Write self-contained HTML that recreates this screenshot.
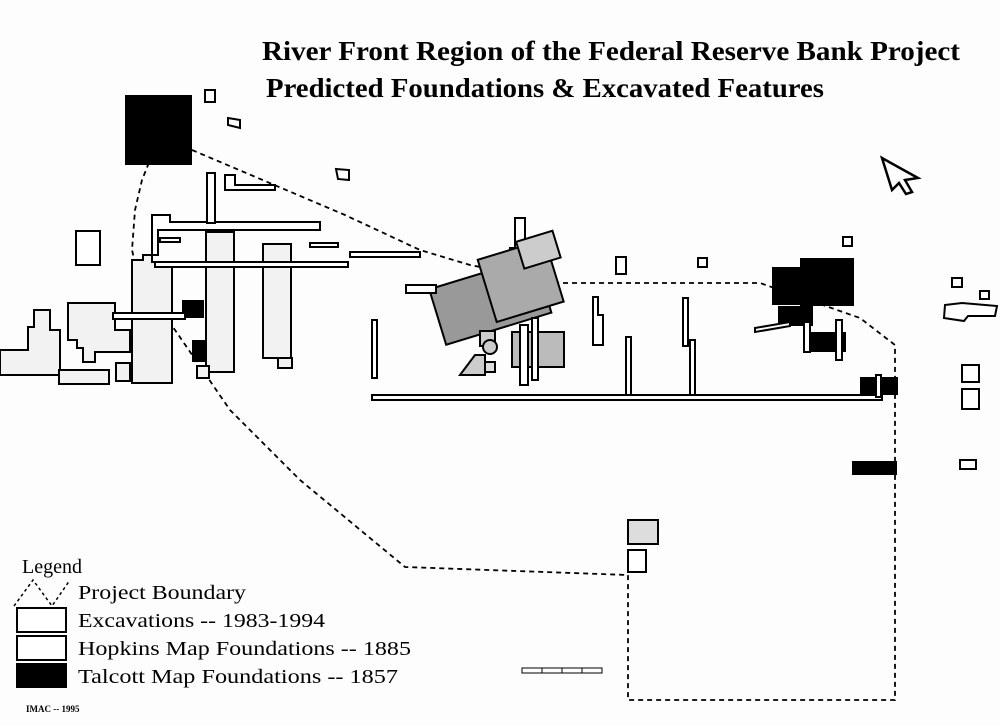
<!DOCTYPE html>
<html><head><meta charset="utf-8"><style>
html,body{margin:0;padding:0;background:#fff;width:1000px;height:726px;overflow:hidden}
svg{display:block}
text{font-family:"Liberation Serif",serif;fill:#000}
</style></head><body>
<svg width="1000" height="726" viewBox="0 0 1000 726" xmlns="http://www.w3.org/2000/svg">
<rect width="1000" height="726" fill="#fdfdfd"/>
<text x="262" y="60" font-size="27" font-weight="bold" textLength="698" lengthAdjust="spacingAndGlyphs">River Front Region of the Federal Reserve Bank Project</text>
<text x="266" y="97" font-size="27" font-weight="bold" textLength="558" lengthAdjust="spacingAndGlyphs">Predicted Foundations &amp; Excavated Features</text>

<path d="M882,158 L918,178 L905,180 L912,192 L906,194 L899,183 L892,190 Z" fill="none" stroke="#000" stroke-width="2.5"/>

<g fill="none" stroke="#000" stroke-width="1.8" stroke-dasharray="5,4">
<path d="M192,150 L345,215 L420,250 L470,265 L520,275 L560,283 L760,283 L860,318 L895,345 L895,700 L628,700 L628,575 L405,567 L300,480 L230,410 L175,330 L140,285 L132,250 L135,210 L142,180 L150,160"/>
</g>

<g fill="#000">
<rect x="125" y="95" width="67" height="70"/>
<rect x="772" y="267" width="30" height="38"/>
<rect x="800" y="258" width="54" height="48"/>
<rect x="778" y="306" width="35" height="20"/>
<rect x="808" y="332" width="38" height="20"/>
<rect x="860" y="377" width="38" height="18"/>
<rect x="852" y="461" width="45" height="14"/>
<rect x="182" y="300" width="22" height="18"/>
<rect x="192" y="340" width="14" height="22"/>
<rect x="16" y="663" width="51" height="25"/>
</g>

<g fill="#f2f2f2" stroke="#000" stroke-width="2">
<rect x="76" y="231" width="24" height="34" fill="#fff"/>
<path d="M0,350 L28,350 L28,327 L34,327 L34,310 L50,310 L50,330 L60,330 L60,375 L0,375 Z"/>
<path d="M68,303 L115,303 L115,330 L130,330 L130,352 L95,352 L95,362 L83,362 L83,348 L77,348 L77,340 L68,340 Z"/>
<rect x="59" y="370" width="50" height="14"/>
<rect x="116" y="363" width="14" height="18"/>
<path d="M132,260 L143,260 L143,255 L152,255 L152,262 L172,262 L172,383 L132,383 Z"/>
<path d="M152,220 L152,215 L170,215 L170,222 L320,222 L320,230 L158,230 L158,255 L152,255 Z" fill="#fff"/>
<rect x="206" y="232" width="28" height="140"/>
<rect x="263" y="244" width="28" height="114"/>
<rect x="278" y="358" width="14" height="10"/>
<rect x="197" y="366" width="12" height="12"/>
<rect x="113" y="313" width="72" height="6" fill="#fff"/>
<rect x="155" y="262" width="193" height="5" fill="#fff"/>
<rect x="207" y="173" width="8" height="50" fill="#fff"/>
<path d="M225,175 L235,175 L235,185 L275,185 L275,190 L225,190 Z" fill="#fff"/>
<rect x="160" y="238" width="20" height="4" fill="#fff"/>
<rect x="310" y="243" width="28" height="4" fill="#fff"/>
<rect x="205" y="90" width="10" height="12" fill="#fff"/>
<path d="M228,118 L240,120 L240,128 L228,125 Z" fill="#fff"/>
<path d="M336,169 L349,170 L349,180 L338,179 Z" fill="#fff"/>
<rect x="350" y="252" width="70" height="5" fill="#fff"/>
<path d="M515,218 L525,218 L525,255 L510,255 L510,248 L515,248 Z" fill="#fff"/>
<g transform="rotate(-17 490 300)">
<rect x="435" y="272" width="110" height="58" fill="#999"/>
<rect x="490" y="258" width="70" height="65" fill="#aaa"/>
<rect x="532" y="252" width="38" height="28" fill="#ccc"/>
</g>
<rect x="480" y="331" width="15" height="15" fill="#ccc"/>
<circle cx="490" cy="347" r="7" fill="#ccc"/>
<path d="M460,375 L475,355 L485,355 L485,375 Z" fill="#ccc"/>
<rect x="485" y="362" width="10" height="10" fill="#ddd"/>
<rect x="512" y="332" width="52" height="35" fill="#bbb"/>
<rect x="520" y="325" width="8" height="60" fill="#fff"/>
<rect x="532" y="318" width="6" height="62" fill="#fff"/>
<rect x="406" y="285" width="30" height="8" fill="#fff"/>
<rect x="616" y="257" width="10" height="17" fill="#fff"/>
<path d="M593,297 L598,297 L598,315 L603,315 L603,345 L593,345 Z" fill="#fff"/>
<rect x="698" y="258" width="9" height="9" fill="#fff"/>
<rect x="843" y="237" width="9" height="9" fill="#fff"/>
<rect x="372" y="320" width="5" height="58" fill="#fff"/>
<rect x="626" y="337" width="5" height="62" fill="#fff"/>
<rect x="690" y="340" width="5" height="60" fill="#fff"/>
<rect x="683" y="298" width="5" height="48" fill="#fff"/>
<rect x="372" y="395" width="510" height="5" fill="#fff"/>
<rect x="876" y="375" width="5" height="22" fill="#fff"/>
<rect x="804" y="322" width="6" height="30" fill="#fff"/>
<rect x="836" y="320" width="6" height="40" fill="#fff"/>
<path d="M755,328 L790,322 L790,326 L755,332 Z" fill="#fff"/>
<rect x="952" y="278" width="10" height="9" fill="#fff"/>
<rect x="980" y="291" width="9" height="8" fill="#fff"/>
<path d="M945,305 L962,303 L997,306 L995,316 L968,316 L964,321 L944,318 Z" fill="#fff"/>
<rect x="962" y="365" width="17" height="17" fill="#fff"/>
<rect x="962" y="389" width="17" height="20" fill="#fff"/>
<rect x="960" y="460" width="16" height="9" fill="#fff"/>
<rect x="628" y="520" width="30" height="24" fill="#ddd"/>
<rect x="628" y="550" width="18" height="22" fill="#fff"/>
</g>

<g stroke="#000" stroke-width="1" fill="#fff">
<rect x="522" y="668" width="80" height="5"/>
<line x1="542" y1="668" x2="542" y2="673"/><line x1="562" y1="668" x2="562" y2="673"/><line x1="582" y1="668" x2="582" y2="673"/>
</g>

<text x="22" y="573" font-size="20">Legend</text>
<path d="M14,606 L33,580 L52,606 L70,580" fill="none" stroke="#000" stroke-width="1.5" stroke-dasharray="3,3"/>
<rect x="17" y="608" width="49" height="24" fill="#fff" stroke="#000" stroke-width="2"/>
<rect x="17" y="636" width="49" height="24" fill="#fff" stroke="#000" stroke-width="2"/>
<text x="78" y="599" font-size="20" textLength="168" lengthAdjust="spacingAndGlyphs">Project Boundary</text>
<text x="78" y="627" font-size="20" textLength="247" lengthAdjust="spacingAndGlyphs">Excavations -- 1983-1994</text>
<text x="78" y="655" font-size="20" textLength="333" lengthAdjust="spacingAndGlyphs">Hopkins Map Foundations -- 1885</text>
<text x="78" y="683" font-size="20" textLength="320" lengthAdjust="spacingAndGlyphs">Talcott Map Foundations -- 1857</text>
<text x="26" y="712" font-size="9" font-weight="bold">IMAC -- 1995</text>
</svg>
</body></html>
